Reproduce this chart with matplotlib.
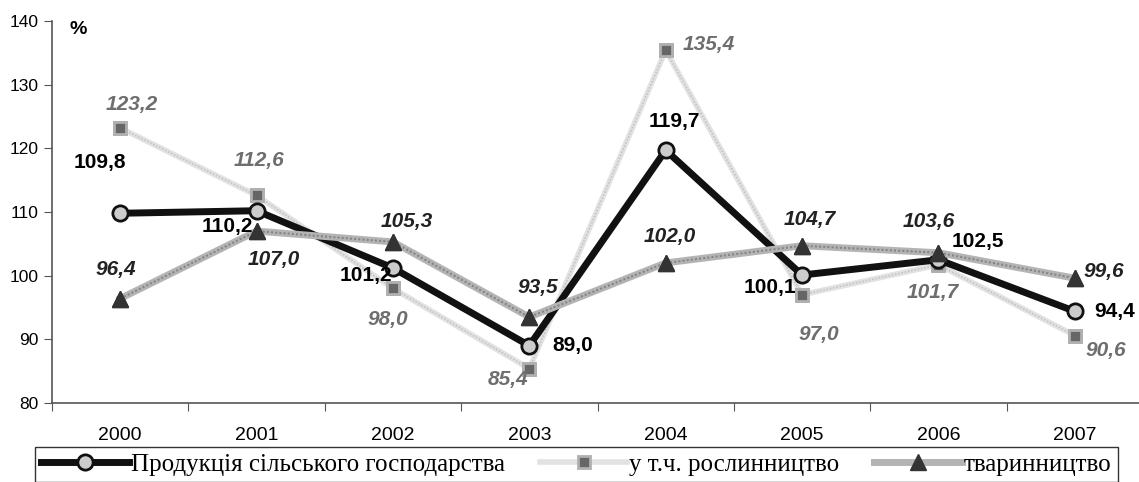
import matplotlib.pyplot as plt

years = ['2000', '2001', '2002', '2003', '2004', '2005', '2006', '2007']
production = [109.8, 110.2, 101.2, 89.0, 119.7, 100.1, 102.5, 94.4]
crops = [123.2, 112.6, 98.0, 85.4, 135.4, 97.0, 101.7, 90.6]
livestock = [96.4, 107.0, 105.3, 93.5, 102.0, 104.7, 103.6, 99.6]

names = ['Продукція сільського господарства', 'у т.ч. рослинництво', 'тваринництво']

# label offsets in pixels (dx, dy) per point
off_prod = [(-20, 51), (-29, -16), (-27, -7), (43, 0), (9, 29), (-32, -12), (39, 18), (40, 0)]
off_crop = [(12, 23), (2, 35), (-5, -31), (-21, -11), (43, 6), (17, -40), (-6, -28), (31, -15)]
off_live = [(-4, 29), (17, -28), (14, 20), (9, 30), (4, 26), (8, 26), (-10, 31), (29, 7)]

plt.rcParams['font.family'] = ['Liberation Sans', 'DejaVu Sans']

fig = plt.figure(figsize=(11.39, 4.82), dpi=100)
ax = fig.add_axes([52 / 1139, 1 - 403 / 482, 1091 / 1139, 382 / 482])

x = list(range(len(years)))

# patterned look: base line + thin dotted overlay
l2, = ax.plot(x, crops, color='#e2e2e2', lw=4, zorder=2,
              marker='s', ms=9, mfc='#666666', mec='#b0b0b0', mew=2)
ax.plot(x, crops, color='#c4c4c4', lw=1.2, ls=(0, (1, 1)), zorder=2.1)
ax.plot(x, crops, ls='none', marker='s', ms=9, mfc='#666666', mec='#b0b0b0',
        mew=2, zorder=2.2)

l1, = ax.plot(x, production, color='#111111', lw=5, zorder=3,
              marker='o', ms=11, mfc='#cccccc', mec='#111111', mew=2)

l3, = ax.plot(x, livestock, color='#b4b4b4', lw=5, zorder=4,
              marker='^', ms=11, mfc='#333333', mec='#333333', mew=1)
ax.plot(x, livestock, color='#858585', lw=1.5, ls=(0, (1, 1)), zorder=4.1)
ax.plot(x, livestock, ls='none', marker='^', ms=11, mfc='#333333', mec='#333333',
        mew=1, zorder=4.2)

for i in x:
    ax.annotate(f'{production[i]:.1f}'.replace('.', ','), (i, production[i]),
                xytext=off_prod[i], textcoords='offset pixels', ha='center', va='center',
                fontsize=15, fontweight='bold', color='#000000', zorder=6)
    ax.annotate(f'{crops[i]:.1f}'.replace('.', ','), (i, crops[i]),
                xytext=off_crop[i], textcoords='offset pixels', ha='center', va='center',
                fontsize=15, fontweight='bold', fontstyle='italic', color='#6e6e6e', zorder=6)
    ax.annotate(f'{livestock[i]:.1f}'.replace('.', ','), (i, livestock[i]),
                xytext=off_live[i], textcoords='offset pixels', ha='center', va='center',
                fontsize=15, fontweight='bold', fontstyle='italic', color='#222222', zorder=6)

ax.set_xlim(-0.5, 7.5)
ax.set_ylim(80, 140)
ax.set_yticks(range(80, 141, 10))
ax.set_xticks([i + 0.5 for i in range(-1, 8)], minor=False)
ax.set_xticklabels([])
ax.set_xticks(x, minor=True)
ax.set_xticklabels(years, minor=True, fontsize=14)
ax.tick_params(axis='x', which='minor', length=0, pad=17)
ax.tick_params(axis='x', which='major', length=6, direction='out', color='#555555')
ax.tick_params(axis='y', length=6, direction='out', labelsize=12.5, color='#555555')

for s in ['top', 'right']:
    ax.spines[s].set_visible(False)
for s in ['left', 'bottom']:
    ax.spines[s].set_color('#555555')
    ax.spines[s].set_linewidth(1.2)

ax.text(0.016, 1.0, '%', transform=ax.transAxes, fontsize=14, fontweight='bold',
        ha='left', va='top')

leg = fig.legend([l1, l2, l3], names, ncol=3, loc='upper left',
                 bbox_to_anchor=(35 / 1139, 1 - 447 / 482),
                 prop={'family': 'Liberation Serif', 'size': 18},
                 frameon=True, fancybox=False, edgecolor='#333333', framealpha=1,
                 handlelength=3.5, handletextpad=0.08, columnspacing=1.4,
                 borderpad=0.25, borderaxespad=0)
leg.get_frame().set_linewidth(1)

fig.savefig('out.png', dpi=100)
